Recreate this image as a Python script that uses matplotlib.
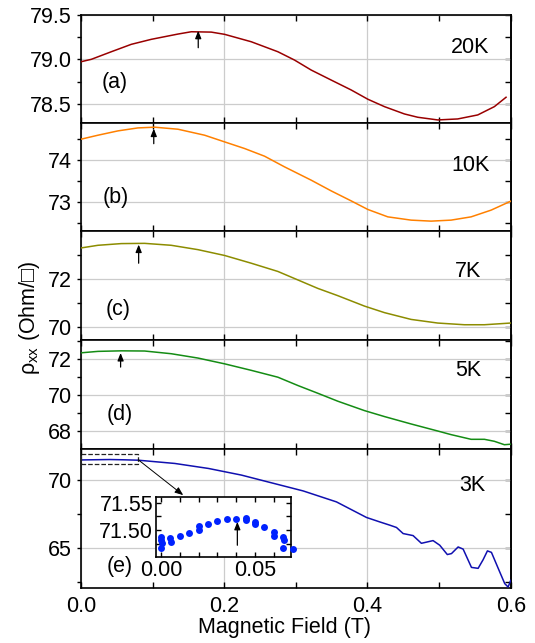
import matplotlib
matplotlib.use('Agg')
import matplotlib.pyplot as plt
from matplotlib.ticker import MultipleLocator, NullFormatter, FormatStrFormatter
from matplotlib.patches import Rectangle

plt.rcParams['font.family'] = ['Liberation Sans', 'DejaVu Sans']
plt.rcParams['mathtext.default'] = 'regular'

# ---------------- data ----------------
field_20K = [0.0, 0.0144, 0.0423, 0.0702, 0.0981, 0.1353, 0.154, 0.1819, 0.2005, 0.2377, 0.2749,
             0.2981, 0.3214, 0.3493, 0.3772, 0.4005, 0.4237, 0.4516, 0.4702, 0.4981, 0.526, 0.554,
             0.5772, 0.5935]
rho_20K = [78.973, 79.0, 79.085, 79.168, 79.224, 79.283, 79.309, 79.305, 79.28, 79.197, 79.085,
           78.992, 78.88, 78.768, 78.657, 78.553, 78.47, 78.388, 78.351, 78.321, 78.332, 78.377,
           78.47, 78.575]

field_10K = [0.0, 0.0237, 0.0516, 0.0795, 0.1028, 0.1353, 0.1726, 0.2005, 0.2284, 0.2563, 0.2842,
             0.3214, 0.3493, 0.3772, 0.4005, 0.4284, 0.4609, 0.4888, 0.5167, 0.5447, 0.5726, 0.6]
rho_10K = [74.507, 74.602, 74.705, 74.776, 74.793, 74.745, 74.602, 74.443, 74.285, 74.102, 73.848,
           73.531, 73.276, 73.038, 72.833, 72.657, 72.579, 72.555, 72.579, 72.657, 72.817, 73.03]

field_7K = [0.0, 0.0237, 0.0563, 0.0888, 0.126, 0.1633, 0.2005, 0.2377, 0.2749, 0.3028, 0.3307,
            0.3586, 0.3958, 0.4237, 0.4609, 0.4981, 0.5353, 0.5633, 0.6]
rho_7K = [73.28, 73.39, 73.46, 73.47, 73.39, 73.21, 72.97, 72.65, 72.31, 71.96, 71.61,
          71.31, 70.88, 70.61, 70.33, 70.18, 70.11, 70.11, 70.18]

field_5K = [0.0, 0.0237, 0.0563, 0.0888, 0.126, 0.1633, 0.2005, 0.2377, 0.2749, 0.3028, 0.3307,
            0.3586, 0.3958, 0.4237, 0.4609, 0.4981, 0.5167, 0.5447, 0.5633, 0.5772, 0.5912, 0.6]
rho_5K = [72.33, 72.41, 72.44, 72.43, 72.28, 72.04, 71.72, 71.36, 70.98, 70.52, 70.09,
          69.65, 69.13, 68.80, 68.39, 68.0, 67.80, 67.54, 67.54, 67.43, 67.24, 67.27]

field_3K = [0.0, 0.02, 0.04, 0.06, 0.08, 0.131, 0.178, 0.224, 0.2637, 0.3102, 0.3567, 0.3986,
            0.4172, 0.4312, 0.4405, 0.4498, 0.4637, 0.4753, 0.4916, 0.5009, 0.5115, 0.5173,
            0.5266, 0.5336, 0.5452, 0.5545, 0.5615, 0.5675, 0.5731, 0.5848, 0.5917, 0.5964, 0.6]
rho_3K = [71.49, 71.505, 71.52, 71.50, 71.47, 71.23, 70.86, 70.37, 69.83, 69.2, 68.39, 67.24,
          66.91, 66.67, 66.5, 66.05, 65.9, 65.33, 65.53, 65.19, 64.5, 64.57,
          65.06, 64.9, 63.55, 63.48, 64.12, 64.77, 64.66, 63.2, 62.35, 62.1, 62.59]

inset_field = [0.0, 0.0002, 0.0004, 0.0, 0.005, 0.0052, 0.010, 0.015, 0.020, 0.0202, 0.025,
               0.030, 0.035, 0.040, 0.045, 0.0452, 0.050, 0.0502, 0.055, 0.060, 0.0602,
               0.065, 0.0652, 0.065, 0.070]
inset_rho = [71.488, 71.482, 71.476, 71.467, 71.485, 71.479, 71.490, 71.495, 71.507, 71.501, 71.512,
             71.5165, 71.521, 71.5195, 71.523, 71.518, 71.515, 71.511, 71.506, 71.497, 71.489,
             71.488, 71.482, 71.4676, 71.4665]

temps = ['20K', '10K', '7K', '5K', '3K']
letters = ['(a)', '(b)', '(c)', '(d)', '(e)']
colors = ['#990000', '#ff8000', '#8c8c00', '#148c14', '#1010b0']
ylims = [(78.29, 79.5), (72.32, 74.9), (69.48, 73.98), (67.02, 73.04), (62.05, 72.32)]
majors = [0.5, 1, 2, 2, 5]
minors = [0.25, 0.5, 1, 1, 2.5]
# peak arrows: x, tail, tip
arrow_x = [0.1637, 0.1016, 0.0805, 0.0553]
arrow_tail = [79.13, 74.40, 72.65, 71.54]
arrow_tip = [79.32, 74.76, 73.42, 72.32]

datasets = [(field_20K, rho_20K), (field_10K, rho_10K), (field_7K, rho_7K),
            (field_5K, rho_5K), (field_3K, rho_3K)]

# ---------------- layout ----------------
W, H = 535, 643
fig = plt.figure(figsize=(W / 100, H / 100), dpi=100)


def rect(l, t, r, b):
    return [l / W, 1 - b / H, (r - l) / W, (b - t) / H]


LEFT, RIGHT = 81, 510.7
edges = [14.7, 122.7, 231, 340, 448.7, 587.7]
temp_pos = [(0.9495, 0.692), (0.952, 0.609), (0.931, 0.633), (0.931, 0.724), (0.940, 0.732)]
letter_pos = [(0.047, 0.37), (0.051, 0.31), (0.058, 0.28), (0.0605, 0.315), (0.06, 0.152)]

FS = 15.5
axes = []
for i in range(5):
    ax = fig.add_axes(rect(LEFT, edges[i], RIGHT, edges[i + 1]))
    axes.append(ax)
    x, y = datasets[i]
    ax.plot(x, y, color=colors[i], lw=1.1, zorder=3)
    ax.set_xlim(0, 0.6)
    ax.set_ylim(*ylims[i])
    ax.xaxis.set_major_locator(MultipleLocator(0.2))
    ax.xaxis.set_minor_locator(MultipleLocator(0.1))
    ax.yaxis.set_major_locator(MultipleLocator(majors[i]))
    ax.yaxis.set_minor_locator(MultipleLocator(minors[i]))
    ax.xaxis.set_major_formatter(FormatStrFormatter('%.1f'))
    ax.tick_params(axis='x', which='both', direction='in', top=True, bottom=True,
                   length=4, width=1, labelsize=FS, pad=6, labelbottom=(i == 4))
    ax.tick_params(axis='y', which='both', direction='out', left=True, right=False,
                   length=2.6, width=1, labelsize=FS, pad=4)
    ax.grid(True, which='major', color='#cccccc', lw=0.9)
    ax.set_axisbelow(True)
    for s in ax.spines.values():
        s.set_linewidth(1.2)
    sec = ax.secondary_yaxis('right')
    sec.yaxis.set_major_locator(MultipleLocator(majors[i]))
    sec.yaxis.set_minor_locator(MultipleLocator(minors[i]))
    sec.yaxis.set_major_formatter(NullFormatter())
    sec.tick_params(which='both', direction='in', length=4, width=1)
    sec.spines['right'].set_linewidth(1.2)
    ax.text(temp_pos[i][0], temp_pos[i][1], temps[i], transform=ax.transAxes,
            ha='right', va='center', fontsize=FS)
    ax.text(letter_pos[i][0], letter_pos[i][1], letters[i], transform=ax.transAxes,
            ha='left', va='center', fontsize=FS)
    if i < 4:
        ax.annotate('', xy=(arrow_x[i], arrow_tip[i]), xytext=(arrow_x[i], arrow_tail[i]),
                    arrowprops=dict(arrowstyle='-|>,head_length=0.45,head_width=0.18',
                                    color='black', lw=0.9, shrinkA=0, shrinkB=0), zorder=4)

# zoom box and arrow on 3K panel
axe = axes[4]
axe.add_patch(Rectangle((0.0, 71.16), 0.08, 0.74, fill=False, ls='--', lw=0.9,
                        edgecolor='#222222', zorder=4))
axe.annotate('', xy=(0.1427, 68.89), xytext=(0.08, 71.5),
             arrowprops=dict(arrowstyle='-|>,head_length=0.5,head_width=0.2',
                             color='black', lw=0.7, shrinkA=0, shrinkB=0), zorder=4)

# inset
axi = fig.add_axes(rect(156, 497.3, 290.7, 557.3))
axi.plot(inset_field, inset_rho, 'o', color='#0022ff', ms=5.0, mec='none', clip_on=False, zorder=3)
axi.set_xlim(-0.0027, 0.069)
axi.set_ylim(71.4505, 71.56)
axi.xaxis.set_major_locator(MultipleLocator(0.05))
axi.xaxis.set_minor_locator(MultipleLocator(0.01))
axi.yaxis.set_major_locator(MultipleLocator(0.05))
axi.yaxis.set_minor_locator(MultipleLocator(0.025))
axi.xaxis.set_major_formatter(FormatStrFormatter('%.2f'))
axi.yaxis.set_major_formatter(FormatStrFormatter('%.2f'))
axi.tick_params(which='both', direction='in', top=True, right=True, length=3.5, width=1,
                labelsize=FS, pad=2)
for s in axi.spines.values():
    s.set_linewidth(1.2)
axi.annotate('', xy=(0.0406, 71.5152), xytext=(0.0406, 71.4725),
             arrowprops=dict(arrowstyle='-|>,head_length=0.45,head_width=0.18',
                             color='black', lw=0.9, shrinkA=0, shrinkB=0), zorder=4)

fig.text(29 / W, 1 - 318 / H, 'ρ$_{xx}$ (Ohm/□)', rotation=90, ha='center', va='center', fontsize=FS)
fig.text(284 / W, 1 - 627.5 / H, 'Magnetic Field (T)', ha='center', va='center', fontsize=FS)

fig.savefig('out.png', dpi=100)
